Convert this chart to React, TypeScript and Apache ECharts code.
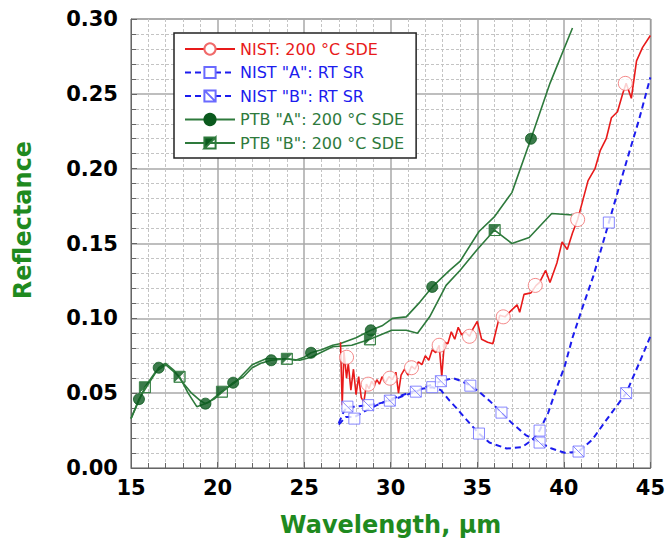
import React, { useEffect, useRef } from 'react';
import * as echarts from 'echarts';

const seriesNames = [
  'NIST: 200 °C SDE',
  'NIST "A": RT SR',
  'NIST "B": RT SR',
  'PTB "A": 200 °C SDE',
  'PTB "B": 200 °C SDE',
];

const nistSdeLine: [number, number][] = [
  [27.1, 0.084], [27.2, 0.042], [27.3, 0.078], [27.45, 0.06], [27.55, 0.07], [27.7, 0.052],
  [27.85, 0.066], [28.0, 0.049], [28.15, 0.061], [28.3, 0.047], [28.45, 0.044], [28.6, 0.056],
  [28.75, 0.053], [28.9, 0.058], [29.05, 0.055], [29.2, 0.059], [29.35, 0.056], [29.5, 0.061],
  [29.7, 0.057], [29.9, 0.061], [30.1, 0.059], [30.3, 0.064], [30.45, 0.05], [30.6, 0.062],
  [30.8, 0.066], [31.0, 0.062], [31.2, 0.068], [31.4, 0.066], [31.6, 0.071], [31.8, 0.069],
  [32.0, 0.075], [32.2, 0.072], [32.4, 0.079], [32.6, 0.077], [32.8, 0.082], [32.95, 0.061],
  [33.1, 0.084], [33.3, 0.083], [33.5, 0.091], [33.7, 0.086], [33.9, 0.094], [34.1, 0.089],
  [34.3, 0.091], [34.55, 0.088], [34.75, 0.093], [35.0, 0.098], [35.25, 0.086], [35.6, 0.084],
  [35.9, 0.083], [36.3, 0.102], [36.6, 0.101], [36.85, 0.104], [37.3, 0.109], [37.45, 0.104],
  [37.7, 0.116], [38.1, 0.117], [38.4, 0.122], [38.6, 0.124], [38.95, 0.132], [39.2, 0.124],
  [39.6, 0.137], [39.9, 0.151], [40.2, 0.146], [40.5, 0.157], [40.8, 0.166], [41.1, 0.179],
  [41.4, 0.192], [41.8, 0.2], [42.1, 0.212], [42.45, 0.22], [42.75, 0.234], [43.1, 0.238],
  [43.4, 0.25], [43.6, 0.257], [43.9, 0.247], [44.2, 0.272], [44.55, 0.281], [45.0, 0.289],
];
const nistSdeMarks: [number, number][] = [
  [27.45, 0.074], [28.7, 0.056], [29.95, 0.06], [31.2, 0.067], [32.8, 0.082],
  [34.55, 0.088], [36.5, 0.101], [38.35, 0.122], [40.8, 0.166], [43.55, 0.257],
];

const nistALine: [number, number][] = [
  [27.0, 0.029], [27.4, 0.034], [27.9, 0.034], [28.5, 0.038], [29.2, 0.042], [30.0, 0.046],
  [31.0, 0.05], [31.8, 0.053], [32.4, 0.054], [32.9, 0.052], [33.4, 0.045], [33.8, 0.04],
  [34.4, 0.032], [35.1, 0.023], [35.7, 0.017], [36.7, 0.013], [37.6, 0.014], [38.2, 0.019],
  [38.6, 0.025], [39.1, 0.037], [39.6, 0.054], [40.05, 0.068], [40.5, 0.087], [41.1, 0.108],
  [41.7, 0.128], [42.6, 0.164], [43.6, 0.204], [44.35, 0.233], [45.0, 0.261],
];
const nistAMarks: [number, number][] = [
  [27.9, 0.033], [32.4, 0.054], [35.1, 0.023], [38.6, 0.025], [42.6, 0.164],
];

const nistBLine: [number, number][] = [
  [27.0, 0.03], [27.3, 0.038], [27.5, 0.041], [28.0, 0.041], [28.7, 0.042], [29.3, 0.043],
  [29.95, 0.045], [30.7, 0.048], [31.45, 0.051], [32.2, 0.055], [32.9, 0.058], [33.6, 0.06],
  [34.1, 0.058], [34.6, 0.055], [35.1, 0.051], [35.7, 0.045], [36.4, 0.037], [37.0, 0.03],
  [37.8, 0.022], [38.6, 0.017], [39.3, 0.013], [40.1, 0.01], [40.85, 0.011], [41.65, 0.019],
  [42.45, 0.032], [43.6, 0.05], [44.35, 0.07], [45.0, 0.088],
];
const nistBMarks: [number, number][] = [
  [27.5, 0.041], [28.7, 0.042], [29.95, 0.045], [31.45, 0.051], [32.9, 0.058],
  [34.6, 0.055], [36.4, 0.037], [38.6, 0.017], [40.85, 0.011], [43.6, 0.05],
];

const ptbALine: [number, number][] = [
  [15.0, 0.033], [15.46, 0.046], [16.0, 0.056], [16.6, 0.067], [17.0, 0.07], [17.5, 0.065],
  [18.0, 0.057], [18.5, 0.05], [19.0, 0.045], [19.3, 0.043], [19.8, 0.046], [20.3, 0.051],
  [20.9, 0.057], [21.5, 0.061], [22.0, 0.067], [22.5, 0.07], [23.1, 0.072], [24.0, 0.073],
  [24.5, 0.072], [25.0, 0.074], [25.4, 0.077], [26.0, 0.079], [26.65, 0.082], [27.06, 0.083],
  [28.0, 0.087], [28.85, 0.092], [29.5, 0.095], [30.1, 0.1], [30.9, 0.101], [31.7, 0.111],
  [32.4, 0.121], [33.4, 0.132], [34.0, 0.138], [35.1, 0.158], [36.0, 0.168], [37.0, 0.184],
  [38.1, 0.22], [39.2, 0.257], [40.5, 0.294],
];
const ptbAMarks: [number, number][] = [
  [15.46, 0.046], [16.6, 0.067], [19.3, 0.043], [20.9, 0.057], [23.1, 0.072],
  [25.4, 0.077], [28.85, 0.092], [32.4, 0.121], [38.1, 0.22],
];

const ptbBLine: [number, number][] = [
  [15.0, 0.033], [15.8, 0.054], [16.4, 0.064], [17.0, 0.069], [17.8, 0.061], [18.3, 0.05],
  [18.8, 0.041], [19.5, 0.044], [20.25, 0.051], [21.0, 0.057], [22.0, 0.069], [22.8, 0.073],
  [24.0, 0.073], [24.75, 0.072], [25.4, 0.074], [26.65, 0.081], [27.75, 0.082], [28.8, 0.086],
  [30.06, 0.092], [30.9, 0.092], [31.55, 0.09], [32.25, 0.101], [33.2, 0.122], [34.0, 0.132],
  [35.0, 0.146], [36.0, 0.159], [37.0, 0.15], [38.0, 0.154], [39.3, 0.17], [40.5, 0.169],
];
const ptbBMarks: [number, number][] = [
  [15.8, 0.054], [17.8, 0.061], [20.25, 0.051], [24.0, 0.073], [28.8, 0.086], [36.0, 0.159],
];

const RED = '#e81a1a';
const RED_MARK = '#f06a6a';
const BLUE = '#1c1cee';
const BLUE_MARK = '#6a6aff';
const GREEN = '#2e7a3c';
const GREEN_DARK = '#0b5a1e';
const GREEN_TITLE = '#1f8a1f';
const FONT = '"DejaVu Sans", sans-serif';

const CROSS_SQUARE = 'path://M0,0H10V10H0Z M0,0L10,10';
const HALF_SQUARE = 'path://M0,0H10V10H0Z M10,0L0,10L10,10Z';

export default function App() {
  const ref = useRef<HTMLDivElement>(null);

  useEffect(() => {
    if (!ref.current) return;
    const chart = echarts.init(ref.current, undefined, { renderer: 'svg' });

    const lineSeries = (
      name: string,
      data: [number, number][],
      color: string,
      width: number,
      dashed: boolean,
      symbol: string,
      itemStyle: any,
      symbolSize: number
    ) => ({
      type: 'line',
      name,
      data,
      showSymbol: false,
      symbol,
      symbolSize,
      itemStyle,
      lineStyle: { color, width, type: dashed ? [6, 4] : 'solid' },
      z: 2,
      silent: true,
    });

    const markSeries = (
      id: string,
      data: [number, number][],
      symbol: string,
      symbolSize: number,
      itemStyle: any
    ) => ({
      type: 'scatter',
      name: id,
      data,
      symbol,
      symbolSize,
      itemStyle,
      z: 3,
      silent: true,
    });

    const redItem = { color: '#fff', borderColor: RED_MARK, borderWidth: 1 };
    const blueItem = { color: '#fff', borderColor: BLUE_MARK, borderWidth: 1 };
    const greenAItem = { color: GREEN_DARK, borderColor: GREEN_DARK, borderWidth: 1 };
    const greenBItem = { color: GREEN_DARK, borderColor: GREEN, borderWidth: 1 };

    const axisCommon = {
      axisLine: { show: true, lineStyle: { color: '#666', width: 1 } },
      axisTick: { show: true, inside: true, length: 6, lineStyle: { color: '#666' } },
      minorTick: { show: true, splitNumber: 5, length: 5, lineStyle: { color: '#666' } },
      splitLine: { show: true, lineStyle: { color: '#a8a8a8', width: 1.5 } },
      minorSplitLine: { show: true, lineStyle: { color: '#c4c4c4', width: 1, type: [3, 2] } },
    };

    chart.setOption({
      animation: false,
      backgroundColor: '#fff',
      grid: {
        left: 131,
        right: 17,
        top: 19,
        bottom: 77,
        show: true,
        borderColor: '#666',
        borderWidth: 1,
        backgroundColor: 'transparent',
      },
      xAxis: {
        type: 'value',
        min: 15,
        max: 45,
        interval: 5,
        ...axisCommon,
        axisLabel: {
          fontFamily: FONT,
          fontWeight: 'bold',
          fontSize: 21,
          color: '#000',
          margin: 9,
        },
        name: 'Wavelength, µm',
        nameLocation: 'middle',
        nameGap: 45,
        nameTextStyle: {
          fontFamily: FONT,
          fontWeight: 'bold',
          fontSize: 24,
          color: GREEN_TITLE,
        },
      },
      yAxis: {
        type: 'value',
        min: 0,
        max: 0.3,
        interval: 0.05,
        ...axisCommon,
        axisLabel: {
          fontFamily: FONT,
          fontWeight: 'bold',
          fontSize: 21,
          color: '#000',
          margin: 13,
          formatter: (v: number) => v.toFixed(2),
        },
      },
      legend: {
        orient: 'vertical',
        left: 174,
        top: 33,
        padding: [8, 12, 7, 10],
        itemWidth: 50,
        itemHeight: 14,
        itemGap: 7.5,
        backgroundColor: '#fff',
        borderColor: '#222',
        borderWidth: 1.5,
        borderRadius: 0,
        selectedMode: false,
        textStyle: { fontFamily: FONT, fontSize: 16 },
        data: [
          { name: seriesNames[0], textStyle: { color: RED } },
          { name: seriesNames[1], textStyle: { color: BLUE } },
          { name: seriesNames[2], textStyle: { color: BLUE } },
          { name: seriesNames[3], textStyle: { color: GREEN } },
          { name: seriesNames[4], textStyle: { color: GREEN } },
        ],
      },
      graphic: [
        {
          type: 'text',
          x: 23,
          y: 220,
          rotation: Math.PI / 2,
          style: {
            text: 'Reflectance',
            font: `bold 24px ${FONT}`,
            fill: GREEN_TITLE,
            align: 'center',
            verticalAlign: 'middle',
          },
        },
      ],
      series: [
        lineSeries(seriesNames[3], ptbALine, GREEN, 1.6, false, 'circle', greenAItem, 11),
        lineSeries(seriesNames[4], ptbBLine, GREEN, 1.6, false, HALF_SQUARE, greenBItem, 11),
        lineSeries(seriesNames[1], nistALine, BLUE, 2, true, 'rect', blueItem, 11),
        lineSeries(seriesNames[2], nistBLine, BLUE, 2, true, CROSS_SQUARE, blueItem, 11),
        lineSeries(seriesNames[0], nistSdeLine, RED, 1.6, false, 'circle', redItem, 14),
        markSeries('m-ptbA', ptbAMarks, 'circle', 11, greenAItem),
        markSeries('m-ptbB', ptbBMarks, HALF_SQUARE, 11, greenBItem),
        markSeries('m-nistA', nistAMarks, 'rect', 11, blueItem),
        markSeries('m-nistB', nistBMarks, CROSS_SQUARE, 11, blueItem),
        markSeries('m-nistSde', nistSdeMarks, 'circle', 14, redItem),
      ],
    });

    return () => chart.dispose();
  }, []);

  return (
    <div
      ref={ref}
      style={{ position: 'fixed', left: 0, top: 0, width: 668, height: 545 }}
    />
  );
}
